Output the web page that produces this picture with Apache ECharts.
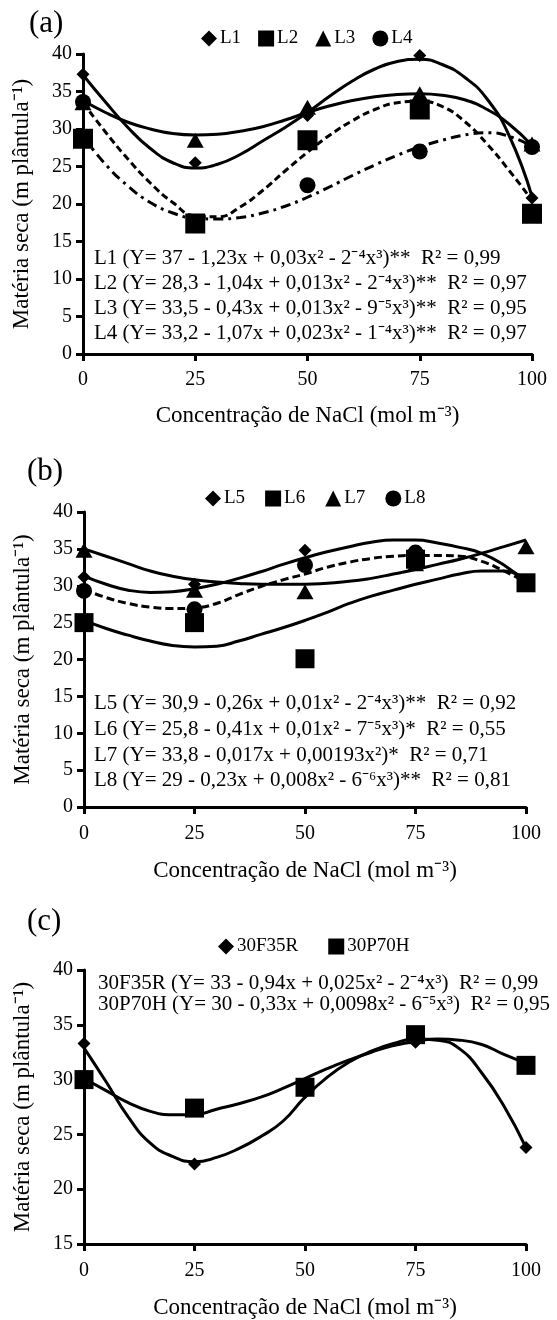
<!DOCTYPE html>
<html>
<head>
<meta charset="utf-8">
<script src="https://cdn.jsdelivr.net/npm/echarts@6/dist/echarts.min.js"></script>
<style>
  html, body { margin: 0; padding: 0; background: #fff; }
  #chart { width: 557px; height: 1320px; }
</style>
</head>
<body>
<div id="chart"></div>
<script>
// NaCl concentration (mol m-3)
const conc = [0, 25, 50, 75, 100];

// (a) observed points
const aL1 = [37.3, 25.5, 31.8, 39.8, 20.8];
const aL2 = [28.7, 17.4, 28.5, 32.6, 18.7];
const aL3 = [33.5, 28.5, 32.9, 34.7, 28.0];
const aL4 = [33.6, 17.6, 22.5, 27.0, 27.6];
// (a) fitted curves as [x, y]
const aL1fit = [[0,37.2],[5,33.6],[10,30.2],[15,27.4],[20,25.5],[25,24.8],[30,25.3],[35,26.6],[40,28.4],[45,30.2],[50,32.2],[55,34.4],[60,36.4],[65,38.0],[70,39.0],[75,39.3],[80,38.6],[85,36.9],[90,34.0],[95,29.0],[100,21.0]];
const aL2fit = [[0,33.5],[5,29.6],[10,26.0],[15,22.8],[20,20.2],[25,18.4],[30,18.3],[35,19.6],[40,21.8],[45,24.4],[50,26.9],[55,29.2],[60,31.1],[65,32.6],[70,33.5],[75,33.7],[80,33.0],[85,31.0],[90,28.0],[95,24.4],[100,20.5]];
const aL3fit = [[0,33.8],[5,32.2],[10,30.9],[15,30.0],[20,29.4],[25,29.2],[30,29.3],[35,29.7],[40,30.3],[45,31.2],[50,32.2],[55,33.1],[60,33.8],[65,34.3],[70,34.6],[75,34.7],[80,34.5],[85,33.9],[90,32.6],[95,30.6],[100,27.8]];
const aL4fit = [[0,29.0],[5,25.3],[10,22.4],[15,20.2],[20,18.8],[25,18.1],[30,18.0],[35,18.2],[40,18.8],[45,19.7],[50,20.9],[55,22.3],[60,23.8],[65,25.2],[70,26.5],[75,27.6],[80,28.5],[85,29.2],[90,29.5],[95,29.0],[100,27.7]];

// (b) observed points
const bL5 = [31.2, 30.2, 34.8, 34.5, 30.5];
const bL6 = [25.0, 25.0, 20.1, 33.6, 30.4];
const bL7 = [34.8, 29.4, 29.2, 33.0, 35.3];
const bL8 = [29.3, 26.8, 32.8, 34.5, 30.5];
// (b) fitted curves
const bL5fit = [[0,31.3],[5,30.2],[10,29.4],[15,29.1],[20,29.2],[25,29.6],[30,30.2],[35,31.0],[40,31.9],[45,32.9],[50,33.8],[55,34.6],[60,35.3],[65,35.9],[70,36.2],[75,36.2],[80,35.8],[85,35.2],[90,34.4],[95,32.8],[100,30.5]];
const bL6fit = [[0,25.3],[5,24.2],[10,23.3],[15,22.5],[20,21.9],[25,21.7],[30,21.8],[35,22.5],[40,23.4],[45,24.3],[50,25.3],[55,26.4],[60,27.6],[65,28.6],[70,29.4],[75,30.2],[80,30.9],[85,31.6],[90,32.0],[95,32.0],[100,30.8]];
const bL7fit = [[0,35.0],[5,34.0],[10,33.0],[15,32.0],[20,31.3],[25,30.8],[30,30.5],[35,30.3],[40,30.2],[50,30.2],[60,30.6],[65,31.0],[70,31.6],[75,32.2],[80,32.9],[85,33.6],[90,34.4],[95,35.3],[100,36.2]];
const bL8fit = [[0,29.5],[5,28.4],[10,27.6],[15,27.1],[20,26.9],[25,27.0],[30,27.6],[35,28.8],[40,29.9],[45,30.8],[50,31.6],[55,32.5],[60,33.2],[65,33.7],[70,34.0],[75,34.1],[80,34.1],[85,34.0],[90,33.3],[95,32.0],[100,30.5]];

// (c) observed points
const c30F35R = [33.3, 22.3, 28.8, 33.4, 23.8];
const c30P70H = [30.0, 27.4, 29.3, 34.1, 31.3];
// (c) fitted curves
const c30F35Rfit = [[0,32.9],[5,29.8],[10,26.6],[15,24.2],[20,23.0],[25,22.5],[30,22.9],[35,23.7],[40,24.8],[45,26.2],[50,28.4],[55,30.2],[60,31.6],[65,32.6],[70,33.3],[75,33.7],[80,33.6],[85,32.8],[90,30.6],[95,27.6],[100,23.8]];
const c30P70Hfit = [[0,30.1],[5,29.0],[10,27.9],[15,27.1],[20,26.8],[25,26.8],[30,27.3],[35,27.8],[40,28.4],[45,29.2],[50,30.1],[55,31.0],[60,31.8],[65,32.5],[70,33.1],[75,33.5],[80,33.7],[85,33.6],[90,33.2],[95,32.3],[100,31.5]];

const eqA = [
  'L1 (Y= 37 - 1,23x + 0,03x² - 2⁻⁴x³)**  R² = 0,99',
  'L2 (Y= 28,3 - 1,04x + 0,013x² - 2⁻⁴x³)**  R² = 0,97',
  'L3 (Y= 33,5 - 0,43x + 0,013x² - 9⁻⁵x³)**  R² = 0,95',
  'L4 (Y= 33,2 - 1,07x + 0,023x² - 1⁻⁴x³)**  R² = 0,97'
];
const eqB = [
  'L5 (Y= 30,9 - 0,26x + 0,01x² - 2⁻⁴x³)**  R² = 0,92',
  'L6 (Y= 25,8 - 0,41x + 0,01x² - 7⁻⁵x³)*  R² = 0,55',
  'L7 (Y= 33,8 - 0,017x + 0,00193x²)*  R² = 0,71',
  'L8 (Y= 29 - 0,23x + 0,008x² - 6⁻⁶x³)**  R² = 0,81'
];
const eqC = [
  '30F35R (Y= 33 - 0,94x + 0,025x² - 2⁻⁴x³)  R² = 0,99',
  '30P70H (Y= 30 - 0,33x + 0,0098x² - 6⁻⁵x³)  R² = 0,95'
];

const FONT = '"Liberation Serif", "Times New Roman", serif';
const xTitle = 'Concentração de NaCl (mol m⁻³)';
const yTitle = 'Matéria seca (m plântula⁻¹)';

const chart = echarts.init(document.getElementById('chart'));

const grids = [
  {left: 83, top: 54, width: 449, height: 300},
  {left: 84, top: 512, width: 442, height: 295},
  {left: 84, top: 970, width: 442, height: 277}
];

function xAx(i, labelMargin, nameGap) {
  return {
    type: 'value', gridIndex: i, min: 0, max: 100, interval: 25,
    name: xTitle, nameLocation: 'middle', nameGap: nameGap,
    nameTextStyle: {fontFamily: FONT, fontSize: 23, color: '#000'},
    axisLine: {onZero: false, lineStyle: {color: '#000', width: 3}},
    axisTick: {length: 7, lineStyle: {color: '#000', width: 3}},
    axisLabel: {fontFamily: FONT, fontSize: 20, color: '#000', margin: labelMargin},
    splitLine: {show: false}
  };
}
function yAx(i, min) {
  return {
    type: 'value', gridIndex: i, min: min, max: 40, interval: 5,
    name: yTitle, nameLocation: 'middle', nameGap: 50, nameRotate: 90,
    nameTextStyle: {fontFamily: FONT, fontSize: 23, color: '#000'},
    axisLine: {onZero: false, lineStyle: {color: '#000', width: 3}},
    axisTick: {length: 7, lineStyle: {color: '#000', width: 3}},
    axisLabel: {fontFamily: FONT, fontSize: 20, color: '#000', margin: 11},
    splitLine: {show: false}
  };
}

function pts(name, vals, symbol, size, gi) {
  return {
    name: name, type: 'scatter', xAxisIndex: gi, yAxisIndex: gi,
    symbol: symbol, symbolSize: size, z: 4,
    itemStyle: {color: '#000', opacity: 1},
    data: conc.map((c, k) => [c, vals[k]])
  };
}
function fit(name, data, dash, gi) {
  return {
    name: name, type: 'line', xAxisIndex: gi, yAxisIndex: gi,
    smooth: true, showSymbol: false, symbol: 'none', z: 3,
    lineStyle: {color: '#000', width: 3, type: dash},
    data: data
  };
}

function legendAt(names, left, top, gap) {
  return {
    data: names, left: left, top: top, orient: 'horizontal',
    itemWidth: 16, itemHeight: 16, itemGap: gap, selectedMode: false,
    itemStyle: {opacity: 1},
    textStyle: {fontFamily: FONT, fontSize: 19, color: '#000', padding: [0, 0, 0, -2]}
  };
}

function textEl(str, x, y, size) {
  return {
    type: 'text', x: x, y: y,
    style: {text: str, fontFamily: FONT, fontSize: size, fill: '#000', verticalAlign: 'middle'}
  };
}

const graphics = [
  textEl('(a)', 29, 24, 31),
  textEl('(b)', 27, 472, 31),
  textEl('(c)', 27, 922, 31)
];
eqA.forEach((s, k) => graphics.push(textEl(s, 94, [258, 283, 308, 333][k], 21)));
eqB.forEach((s, k) => graphics.push(textEl(s, 94, [703, 729, 755, 780][k], 21)));
eqC.forEach((s, k) => graphics.push(textEl(s, 98, [983, 1004][k], 21)));

const option = {
  animation: false,
  backgroundColor: '#fff',
  grid: grids,
  xAxis: [xAx(0, 16, 50), xAx(1, 17, 52), xAx(2, 17, 52)],
  yAxis: [yAx(0, 0), yAx(1, 0), yAx(2, 15)],
  legend: [
    legendAt(['L1', 'L2', 'L3', 'L4'], 196, 24, 17),
    legendAt(['L5', 'L6', 'L7', 'L8'], 200, 484, 20),
    legendAt(['30F35R', '30P70H'], 213, 932, 30)
  ],
  graphic: graphics,
  series: [
    fit('L1 fit', aL1fit, 'solid', 0),
    fit('L2 fit', aL2fit, [7, 4], 0),
    fit('L3 fit', aL3fit, 'solid', 0),
    fit('L4 fit', aL4fit, [10, 5, 3, 5], 0),
    pts('L1', aL1, 'diamond', 13, 0),
    pts('L2', aL2, 'rect', 20, 0),
    pts('L3', aL3, 'triangle', [17, 15], 0),
    pts('L4', aL4, 'circle', 16, 0),

    fit('L5 fit', bL5fit, 'solid', 1),
    fit('L6 fit', bL6fit, 'solid', 1),
    fit('L7 fit', bL7fit, 'solid', 1),
    fit('L8 fit', bL8fit, [8, 4], 1),
    pts('L5', bL5, 'diamond', 13, 1),
    pts('L6', bL6, 'rect', 19, 1),
    pts('L7', bL7, 'triangle', [17, 15], 1),
    pts('L8', bL8, 'circle', 16, 1),

    fit('30F35R fit', c30F35Rfit, 'solid', 2),
    fit('30P70H fit', c30P70Hfit, 'solid', 2),
    pts('30F35R', c30F35R, 'diamond', 13, 2),
    pts('30P70H', c30P70H, 'rect', 19, 2)
  ]
};

chart.setOption(option);
</script>
</body>
</html>
